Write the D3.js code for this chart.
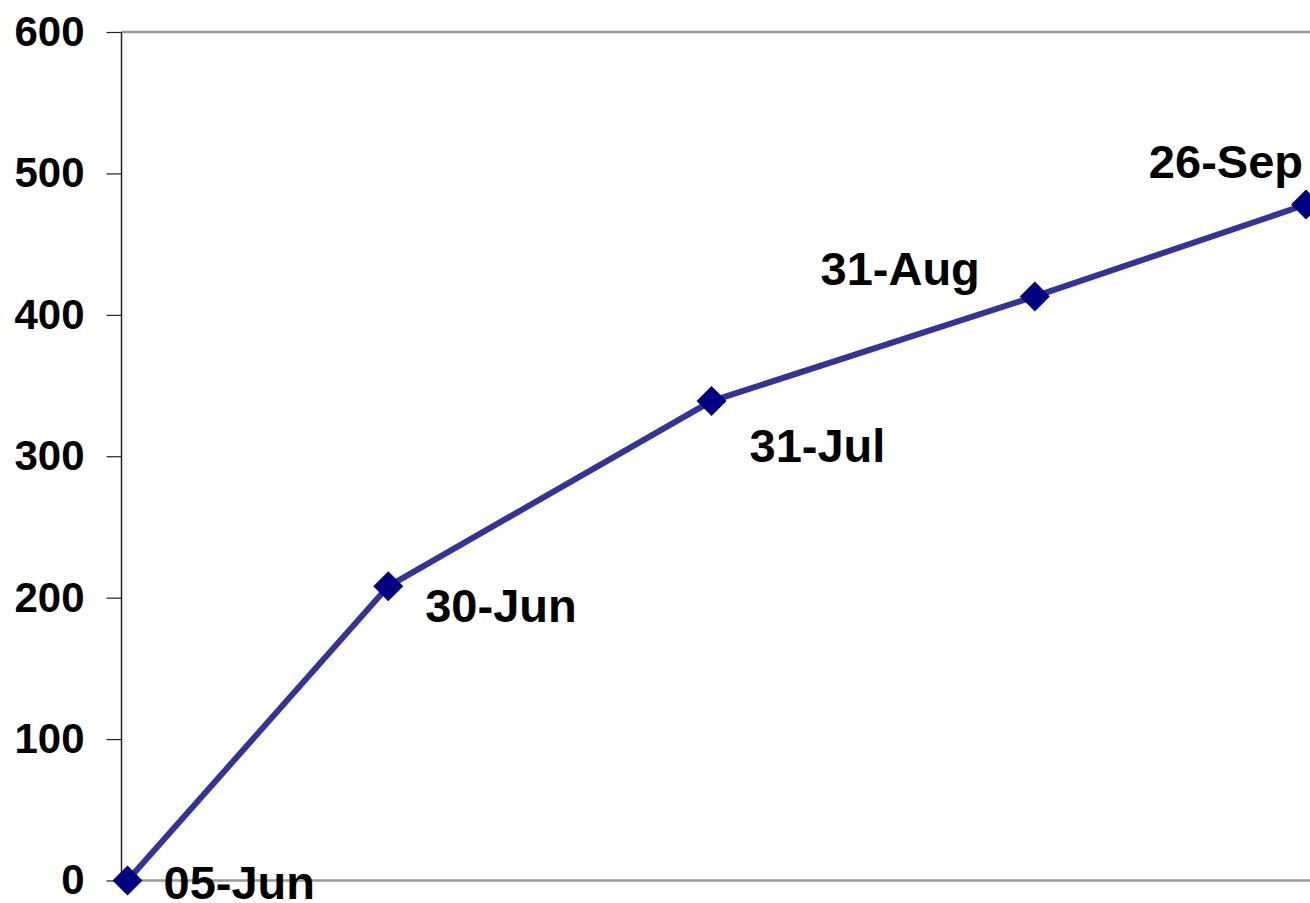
<!DOCTYPE html>
<html>
<head>
<meta charset="utf-8">
<script src="https://cdn.jsdelivr.net/npm/d3@7"></script>
<style>
    html, body { margin: 0; padding: 0; background: #fff; }
    svg { display: block; font-family: 'Liberation Sans', Arial, sans-serif; font-weight: bold; }
</style>
</head>
<body>
<svg></svg>
<script>
// data
const dates = ['2008-06-05', '2008-06-30', '2008-07-31', '2008-08-31', '2008-09-26'];
const values = [0, 208, 339, 413, 478];
const yTicks = [0, 100, 200, 300, 400, 500, 600];

// where each data label sits relative to its point (dx, dy of baseline, anchor)
const labelPlace = [
    [36, 18, 'start'],
    [37, 36, 'start'],
    [38, 61, 'start'],
    [-55, -11, 'end'],
    [-3, -27, 'end']
];

let width = 1310;
let height = 903;

let svg = d3.select('svg')
    .attr('width', width)
    .attr('height', height);

const parse = d3.timeParse('%Y-%m-%d');
const fmt = d3.timeFormat('%d-%b');
let points = dates.map((d, i) => ({ date: parse(d), value: values[i] }));

let xScale = d3.scaleTime()
    .domain(d3.extent(points, p => p.date))
    .range([127.5, 1306]);

let yScale = d3.scaleLinear()
    .domain([0, 600])
    .range([880.5, 32]);

const axisX = 121.5;

// top gridline and bottom axis line
svg.append('line')
    .attr('x1', axisX).attr('x2', width)
    .attr('y1', yScale(600)).attr('y2', yScale(600))
    .attr('stroke', '#999').attr('stroke-width', 2.5);

svg.append('line')
    .attr('x1', axisX).attr('x2', width)
    .attr('y1', yScale(0)).attr('y2', yScale(0))
    .attr('stroke', '#999').attr('stroke-width', 2.5);

// y axis
let yAxis = d3.axisLeft(yScale)
    .tickValues(yTicks)
    .tickSize(15)
    .tickPadding(22)
    .tickFormat(d3.format('d'));

let gy = svg.append('g')
    .attr('transform', 'translate(' + axisX + ',0)')
    .call(yAxis);

gy.select('.domain')
    .attr('d', 'M0,' + yScale(600) + 'V' + yScale(0))
    .attr('stroke', '#222').attr('stroke-width', 1.5);
gy.selectAll('.tick line').attr('stroke', '#222').attr('stroke-width', 1.2);
gy.selectAll('.tick text')
    .attr('font-size', 42)
    .attr('font-weight', 'bold')
    .attr('font-family', "'Liberation Sans', Arial, sans-serif")
    .attr('fill', '#000');

// series line
let line = d3.line()
    .x(p => xScale(p.date))
    .y(p => yScale(p.value));

svg.append('path')
    .datum(points)
    .attr('d', line)
    .attr('fill', 'none')
    .attr('stroke', '#333399')
    .attr('stroke-width', 6);

// diamond markers
svg.selectAll('.marker')
    .data(points)
    .enter()
    .append('path')
    .attr('class', 'marker')
    .attr('d', 'M0,-15L15,0L0,15L-15,0Z')
    .attr('transform', p => 'translate(' + xScale(p.date) + ',' + yScale(p.value) + ')')
    .attr('fill', '#000080');

// date labels
svg.selectAll('.label')
    .data(points)
    .enter()
    .append('text')
    .attr('class', 'label')
    .attr('x', (p, i) => xScale(p.date) + labelPlace[i][0])
    .attr('y', (p, i) => yScale(p.value) + labelPlace[i][1])
    .attr('text-anchor', (p, i) => labelPlace[i][2])
    .attr('font-size', 47)
    .attr('fill', '#000')
    .text(p => fmt(p.date));
</script>
</body>
</html>
